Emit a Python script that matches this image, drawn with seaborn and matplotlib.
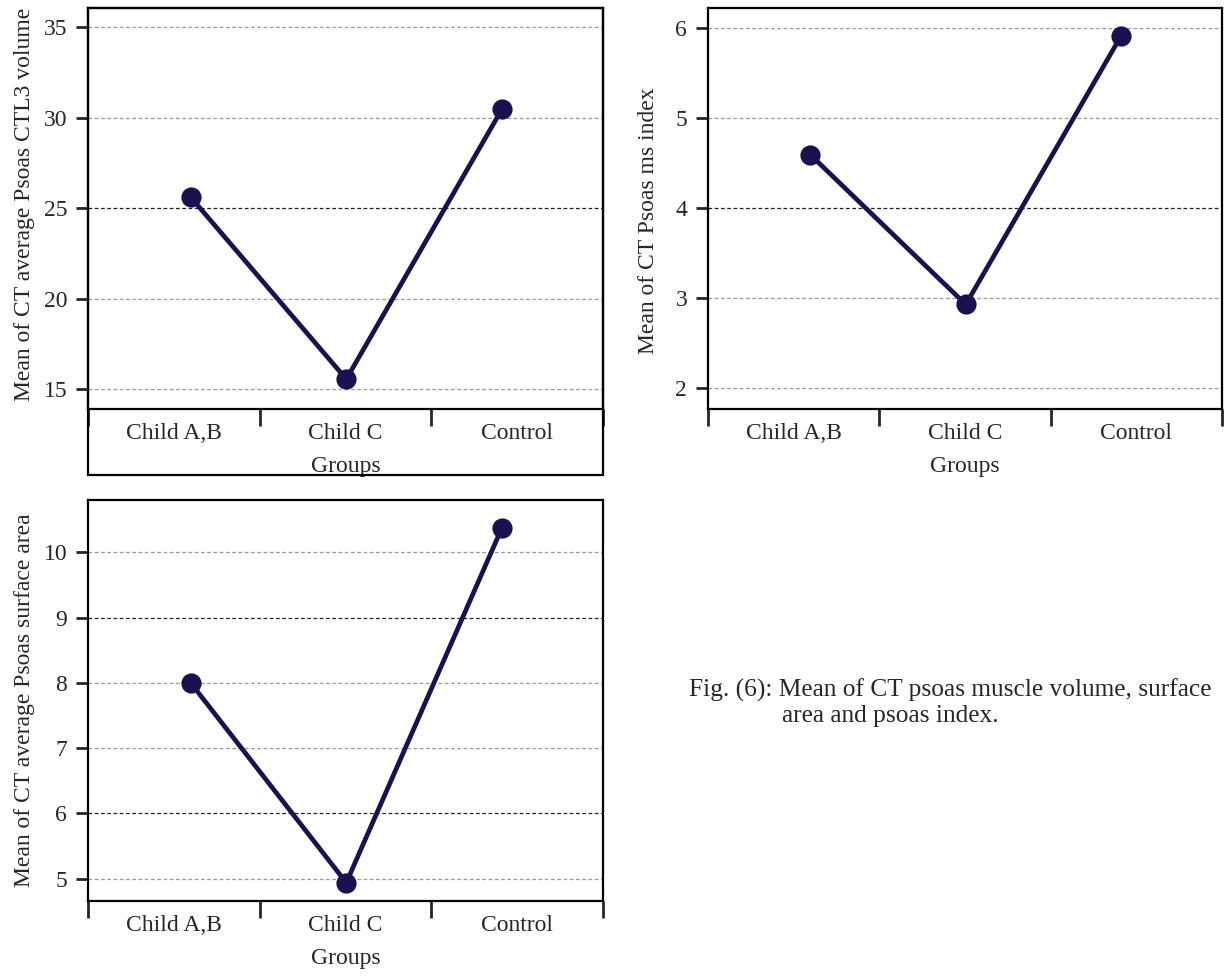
import matplotlib
matplotlib.use("Agg")
import matplotlib.pyplot as plt
import seaborn as sns
import pandas as pd
from matplotlib.patches import Rectangle

# ---- data ----
groups = ["Child A,B", "Child C", "Control"]
volume = [25.6, 15.55, 30.45]
ms_index = [4.59, 2.93, 5.91]
surface = [8.0, 4.94, 10.37]

vol_ticks = [15, 20, 25, 30, 35]
idx_ticks = [2, 3, 4, 5, 6]
surf_ticks = [5, 6, 7, 8, 9, 10]

sns.set_style("ticks")
plt.rcParams["font.family"] = ["Liberation Serif", "DejaVu Serif"]
plt.rcParams["font.size"] = 17

W, H = 1229, 976
fig = plt.figure(figsize=(W / 100, H / 100), dpi=100)

NAVY = "#1c1150"
FS = 17


def px_axes(x0, y0, x1, y1):
    return fig.add_axes([x0 / W, 1 - y1 / H, (x1 - x0) / W, (y1 - y0) / H])


def panel(ax, vals, ylim, ticks, ylabel, dark_lines, ylab_x=-0.102, ylab_y=0.5):
    df = pd.DataFrame({"Groups": groups, "val": vals})
    sns.pointplot(data=df, x="Groups", y="val", ax=ax, color=NAVY,
                  markersize=12, linewidth=3.4, errorbar=None)
    xl = (-0.66, 2.65)
    ax.set_xlim(*xl)
    ax.set_ylim(*ylim)
    span = xl[1] - xl[0]
    ax.set_xticks([xl[0] + span * k / 3 for k in range(4)])
    ax.set_xticklabels([])
    ax.set_xticks([xl[0] + span * (k + 0.5) / 3 for k in range(3)], minor=True)
    ax.set_xticklabels(groups, minor=True)
    ax.tick_params(axis="x", which="major", length=12, width=2, direction="out")
    ax.tick_params(axis="x", which="minor", length=0, pad=10, labelsize=FS)
    ax.set_yticks(ticks)
    ax.set_yticklabels([str(t) for t in ticks])
    ax.tick_params(axis="y", length=9, width=2, labelsize=FS, pad=6)
    ax.yaxis.grid(True, linestyle=(0, (3, 2)), color="#9a9a9a", linewidth=0.9)
    ax.xaxis.grid(False)
    for t, gl in zip(ticks, ax.get_ygridlines()):
        if t in dark_lines:
            gl.set_color("#222222")
    for s in ax.spines.values():
        s.set_visible(True)
        s.set_linewidth(1.6)
        s.set_color("black")
    ax.set_xlabel("Groups", fontsize=FS, labelpad=9)
    ax.set_ylabel(ylabel, fontsize=FS)
    ax.yaxis.set_label_coords(ylab_x, ylab_y)
    ax.set_axisbelow(True)


ax1 = px_axes(88, 8, 603, 409)
panel(ax1, volume, (13.9, 36.05), vol_ticks,
      "Mean of CT average Psoas CTL3 volume", [25], ylab_y=0.51)

ax2 = px_axes(708, 8, 1222, 409)
panel(ax2, ms_index, (1.77, 6.22), idx_ticks,
      "Mean of CT Psoas ms index", [4], ylab_x=-0.096, ylab_y=0.47)

ax3 = px_axes(88, 500, 603, 901)
panel(ax3, surface, (4.66, 10.8), surf_ticks,
      "Mean of CT average Psoas surface area", [9, 6])

# outer frame around first panel's category area
fig.add_artist(Rectangle((88 / W, 1 - 475 / H), (603 - 88) / W, (475 - 8) / H,
                         transform=fig.transFigure, fill=False,
                         edgecolor="black", linewidth=1.6))

fig.text(689 / W, 1 - 697 / H,
         "Fig. (6): Mean of CT psoas muscle volume, surface",
         fontsize=18.3, va="baseline", ha="left")
fig.text(782 / W, 1 - 722 / H, "area and psoas index.",
         fontsize=18.3, va="baseline", ha="left")

fig.savefig("out.png", dpi=100, facecolor="white")
